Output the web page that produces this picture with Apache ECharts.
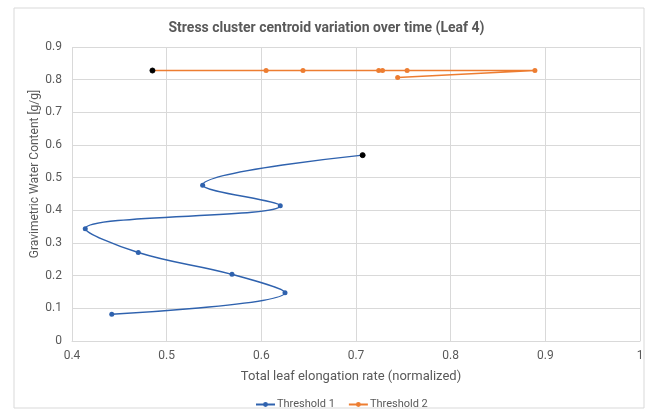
<!DOCTYPE html>
<html><head><meta charset="utf-8">
<script src="https://cdn.jsdelivr.net/npm/echarts@6/dist/echarts.min.js"></script>
<style>html,body{margin:0;padding:0;background:#fff}#c{width:653px;height:414px}</style>
</head><body><div id="c"></div>
<script>
const titleText = 'Stress cluster centroid variation over time (Leaf 4)';
const xName = 'Total leaf elongation rate (normalized)';
const yName = 'Gravimetric Water Content [g/g]';
const seriesNames = ['Threshold 1', 'Threshold 2'];
const t1x = [0.442, 0.625, 0.569, 0.470, 0.414, 0.620, 0.538, 0.707];
const t1y = [0.082, 0.148, 0.204, 0.271, 0.344, 0.414, 0.477, 0.569];
const t2x = [0.744, 0.889, 0.754, 0.728, 0.724, 0.644, 0.605, 0.485];
const t2y = [0.807, 0.828, 0.828, 0.828, 0.828, 0.828, 0.828, 0.828];

const font = "Roboto, 'Liberation Sans', sans-serif";
function pts(xs, ys) {
  return xs.map((x, i) => {
    const d = { value: [x, ys[i]] };
    if (i === xs.length - 1) d.itemStyle = { color: '#000', borderColor: '#000' };
    return d;
  });
}
const fmt = v => String(Math.round(v * 10) / 10);
const chart = echarts.init(document.getElementById('c'), null, { renderer: 'canvas' });
chart.setOption({
  animation: false,
  backgroundColor: '#fff',
  graphic: [
    { type: 'rect', shape: { x: 14, y: 8, width: 630, height: 400 }, style: { fill: 'none', stroke: '#d9d9d9', lineWidth: 1 } },
    { type: 'text', x: 35, y: 174, rotation: Math.PI / 2,
      style: { text: yName, fontFamily: font, fontSize: 12, fill: '#595959', align: 'center', verticalAlign: 'middle' } }
  ],
  title: { text: titleText, left: 'center', top: 16, textStyle: { fontFamily: font, fontSize: 14, fontWeight: 'bold', color: '#595959' } },
  grid: { left: 72, right: 13, top: 47, bottom: 73 },
  xAxis: {
    type: 'value', min: 0.4, max: 1, interval: 0.1,
    name: xName, nameLocation: 'middle', nameGap: 29,
    nameTextStyle: { fontFamily: font, fontSize: 13, color: '#595959', padding: [0, 10, 0, 0] },
    axisLine: { show: true, lineStyle: { color: '#d9d9d9' } }, axisTick: { show: false },
    axisLabel: { formatter: fmt, fontFamily: font, fontSize: 12, color: '#595959', margin: 9 },
    splitLine: { show: true, lineStyle: { color: '#d9d9d9' } }
  },
  yAxis: {
    type: 'value', min: 0, max: 0.9, interval: 0.1,
    axisLine: { show: false }, axisTick: { show: false },
    axisLabel: { formatter: fmt, fontFamily: font, fontSize: 12, color: '#595959', margin: 10 },
    splitLine: { show: true, lineStyle: { color: '#d9d9d9' } }
  },
  legend: {
    bottom: -1, left: 250, itemWidth: 19, itemHeight: 6, itemGap: 13,
    textStyle: { fontFamily: font, fontSize: 11, color: '#595959', padding: [0, 0, 0, -3] },
    data: seriesNames
  },
  series: [
    { name: seriesNames[0], type: 'line', smooth: 0.4, data: pts(t1x, t1y), symbol: 'circle', symbolSize: 5,
      color: '#2F62AE', lineStyle: { width: 1.5, color: '#2F62AE' }, itemStyle: { color: '#2F62AE' } },
    { name: seriesNames[1], type: 'line', smooth: false, data: pts(t2x, t2y), symbol: 'circle', symbolSize: 5,
      color: '#ED7D31', lineStyle: { width: 1.5, color: '#ED7D31' }, itemStyle: { color: '#ED7D31' } }
  ]
});
</script></body></html>
